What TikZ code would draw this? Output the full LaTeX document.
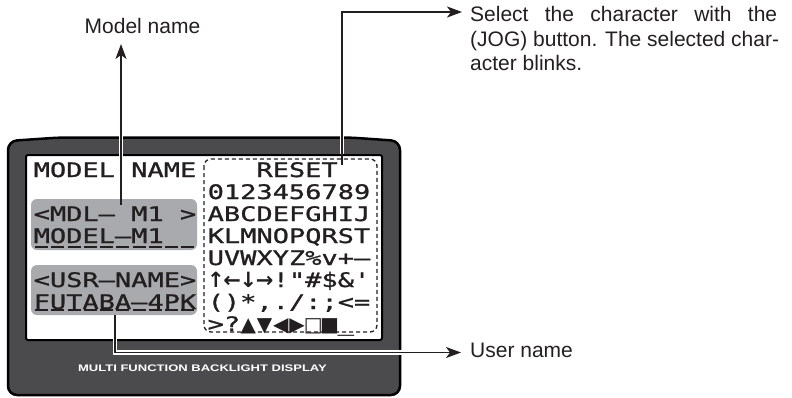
\documentclass[tikz,border=0pt]{standalone}
\usepackage{fontspec}
\usepackage{graphicx}
\setmainfont{Liberation Sans}
\newfontfamily\lcdfont[FakeStretch=1.35,FakeBold=1.2,Ligatures=TeXOff]{DejaVu Sans Mono}
\newfontfamily\symfont[Ligatures=TeXOff]{DejaVu Sans Bold}
\newcommand{\lcdcell}[2][16]{\makebox[16.25pt]{\symfont\fontsize{#1}{#1}\selectfont #2}}
\usetikzlibrary{arrows.meta}
\definecolor{ink}{HTML}{231F20}
\definecolor{bezelgray}{HTML}{4B4B4D}
\definecolor{lcdgray}{HTML}{A8AAAD}
\begin{document}
\begin{tikzpicture}[x=1pt,y=-1pt,
  lcdtext/.style={anchor=base west,inner sep=0pt,text=ink,font=\lcdfont\fontsize{20}{22}\selectfont},
  callout/.style={inner sep=0pt,text=ink,font=\fontsize{21}{25}\selectfont},
  conn/.style={draw=ink,line width=1.8pt},
  tipped/.style={conn,-{Stealth[length=15pt,width=11pt,inset=4pt]}},
  casing/.style={draw=white,line width=4.8pt},
  uline/.style={draw=ink,line width=2.2pt},
  grayfield/.style={fill=lcdgray,rounded corners=6pt}]
\useasboundingbox (0,0) rectangle (792,397);
% bezel
\path[fill=bezelgray,draw=black,line width=2.5pt,rounded corners=9pt]
  (8,141) -- (60,137.5) -- (350,137.5) -- (400,141) -- (400,395) -- (8,395) -- cycle;
\node[inner sep=0pt,text=white,font=\bfseries\fontsize{9.5}{10}\selectfont] (bezeltxt) at (202.5,368)
  {\scalebox{1.37}[1]{MULTI FUNCTION BACKLIGHT DISPLAY}};
% screen
\path[fill=white,draw=black,line width=2pt,rounded corners=2pt] (26,155) rectangle (382,340);
% gray fields
\path[grayfield] (31,199) rectangle (197,250);
\path[grayfield] (31,265) rectangle (197,315);
% dashed box
\draw[ink,line width=1.3pt,dash pattern=on 4pt off 3pt,rounded corners=7pt] (204,159) rectangle (377,332);
% left LCD text
\node[lcdtext] (t0) at (33.5,177) {MODEL NAME};
\node[lcdtext] (t2) at (33.5,221) {<MDL– M1 >};
\node[lcdtext] (t3) at (33.5,243) {MODEL–M1};
\node[lcdtext] (t5) at (33.5,287) {<USR–NAME>};
\node[lcdtext] (t6) at (33.5,309) {FUTABA–4PK};
\foreach \k in {0,...,9}{
  \draw[uline] ({33.5+16.25*\k+1.5},247) -- ({33.5+16.25*\k+14.5},247);
  \draw[uline] ({33.5+16.25*\k+1.5},310) -- ({33.5+16.25*\k+14.5},310);
}
% right LCD text
\node[lcdtext] (r0) at (256.25,177) {RESET};
\node[lcdtext] (r1) at (207.5,199) {0123456789};
\node[lcdtext] (r2) at (207.5,221) {ABCDEFGHIJ};
\node[lcdtext] (r3) at (207.5,243) {KLMNOPQRST};
\node[lcdtext] (r4) at (207.5,265) {UVWXYZ\%v+–};
\node[lcdtext] (r5) at (207.5,287) {\lcdcell[21]{↑}\lcdcell[21]{←}\lcdcell[21]{↓}\lcdcell[21]{→}!"\#\$\&'};
\node[lcdtext] (r6) at (207.5,309) {()*,./:;<=};
\node[lcdtext] (r7) at (207.5,331) {>?\lcdcell[20]{▲}\lcdcell[20]{▼}\lcdcell[20]{◀}\lcdcell[20]{▶}\lcdcell[20]{□}\lcdcell[20]{■}\_};
% callout labels
\node[callout,anchor=base] (lmodel) at (142.5,33) {Model name};
\node[callout,anchor=base west] (lsel1) at (470,21.5) {\makebox[307pt][s]{Select the character with the}};
\node[callout,anchor=base west] (lsel2) at (470,46) {(JOG) button. The selected char-};
\node[callout,anchor=base west] (lsel3) at (470,70.5) {acter blinks.};
\node[callout,anchor=base west] (luser) at (470,357.5) {User name};
% connector end points
\coordinate (mA) at (121,205);
\coordinate (mTip) at (121,44);
\coordinate (sA) at (342,165);
\coordinate (sB) at (342,12);
\coordinate (sTip) at (462,12);
\coordinate (uA) at (115,315);
\coordinate (uB) at (115,352.5);
\coordinate (uTip) at (461,352.5);
% casings where lines cross the bezel
\draw[casing] (121,199) -- (121,60);
\draw[casing] (342,154) -- (342,130);
\draw[casing] (115,338) -- (uB) -- (404,352.5);
% connectors
\draw[tipped] (mA) -- (mTip);
\draw[tipped] (sA) -- (sB) -- (sTip);
\draw[tipped] (uA) -- (uB) -- (uTip);
\end{tikzpicture}
\end{document}
